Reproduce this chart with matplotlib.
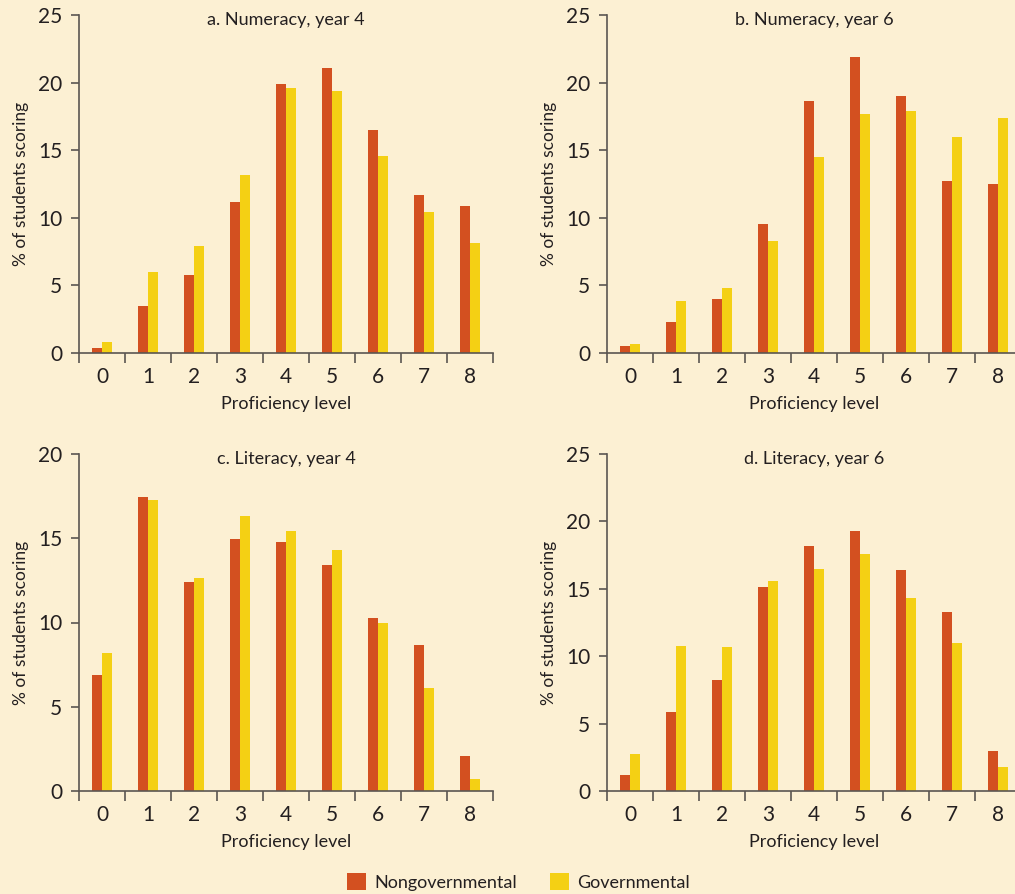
import numpy as np
import matplotlib
matplotlib.use("Agg")
import matplotlib.pyplot as plt
from matplotlib.patches import Patch

# Data (% of students at each proficiency level)
levels = [0, 1, 2, 3, 4, 5, 6, 7, 8]
series_names = ["Nongovernmental", "Governmental"]

num4_nongov = [0.35, 3.5, 5.8, 11.2, 19.9, 21.1, 16.5, 11.7, 10.9]
num4_gov = [0.85, 6.0, 7.9, 13.2, 19.6, 19.4, 14.6, 10.4, 8.1]

num6_nongov = [0.5, 2.3, 4.0, 9.55, 18.65, 21.9, 19.0, 12.7, 12.5]
num6_gov = [0.65, 3.85, 4.8, 8.3, 14.5, 17.7, 17.9, 16.0, 17.4]

lit4_nongov = [6.9, 17.45, 12.4, 14.95, 14.75, 13.4, 10.25, 8.65, 2.1]
lit4_gov = [8.2, 17.25, 12.65, 16.3, 15.45, 14.3, 10.0, 6.1, 0.7]

lit6_nongov = [1.15, 5.85, 8.2, 15.1, 18.15, 19.3, 16.4, 13.25, 3.0]
lit6_gov = [2.75, 10.75, 10.7, 15.55, 16.45, 17.6, 14.3, 10.95, 1.75]

titles = ["a. Numeracy, year 4", "b. Numeracy, year 6",
          "c. Literacy, year 4", "d. Literacy, year 6"]
ymaxes = [25, 25, 20, 25]

BG = "#FCF0D3"
ORANGE = "#D35020"
YELLOW = "#F4D014"
AXIS = "#5B5652"
TEXT = "#231F20"

plt.rcParams['font.family'] = ['Lato', 'DejaVu Sans']

fig = plt.figure(figsize=(10.15, 8.94), dpi=100, facecolor=BG)
W, H = 1015.0, 894.0

# axes boxes in pixels: (left, top, right, bottom)
boxes = [(79, 15, 493, 353), (607, 15, 1021, 353),
         (79, 454, 493, 791), (607, 454, 1021, 791)]
data = [(num4_nongov, num4_gov), (num6_nongov, num6_gov),
        (lit4_nongov, lit4_gov), (lit6_nongov, lit6_gov)]

x = np.array(levels)
w = 10 / 46.0

for (l, t, r, b), (ng, gv), title, ymax in zip(boxes, data, titles, ymaxes):
    ax = fig.add_axes([l / W, 1 - b / H, (r - l) / W, (b - t) / H])
    ax.set_facecolor(BG)
    ax.bar(x - w / 2, ng, width=w, color=ORANGE, linewidth=0, zorder=2)
    ax.bar(x + w / 2, gv, width=w, color=YELLOW, linewidth=0, zorder=2)
    ax.set_xlim(-0.5, 8.5)
    ax.set_ylim(0, ymax)
    ax.set_yticks(np.arange(0, ymax + 1, 5))
    ax.set_xticks(np.arange(-0.5, 9, 1))
    ax.set_xticklabels([])
    ax.set_xticks(x, minor=True)
    ax.set_xticklabels([str(v) for v in levels], minor=True)
    ax.tick_params(axis='x', which='major', length=7, width=1.2, color=AXIS,
                   direction='out')
    ax.tick_params(axis='x', which='minor', length=0, pad=10, labelsize=15,
                   labelcolor=TEXT)
    ax.tick_params(axis='y', length=6, width=1.2, color=AXIS, pad=6,
                   labelsize=15, labelcolor=TEXT)
    for s in ['top', 'right']:
        ax.spines[s].set_visible(False)
    for s in ['left', 'bottom']:
        ax.spines[s].set_color(AXIS)
        ax.spines[s].set_linewidth(1.2)
        ax.spines[s].set_zorder(3)
    ax.text(0.5, 1 - 5.0 / (b - t), title, transform=ax.transAxes,
            ha='center', va='center', fontsize=13, color=TEXT)
    ax.set_ylabel("% of students scoring", fontsize=12.5, color=TEXT)
    ax.yaxis.set_label_coords(-50.0 / (r - l), 0.5)
    ax.set_xlabel("Proficiency level", fontsize=13, color=TEXT)
    ax.xaxis.set_label_coords(0.5, -43.0 / (b - t))

handles = [Patch(facecolor=ORANGE, edgecolor='none'),
           Patch(facecolor=YELLOW, edgecolor='none')]
fig.legend(handles, series_names, loc='center', bbox_to_anchor=(518.5 / W, 1 - 882 / H),
           ncol=2, frameon=False, fontsize=13, handlelength=1.05, handleheight=1.05,
           handletextpad=0.45, columnspacing=1.8, borderpad=0, labelcolor=TEXT)

fig.savefig("out.png", dpi=100, facecolor=BG)
